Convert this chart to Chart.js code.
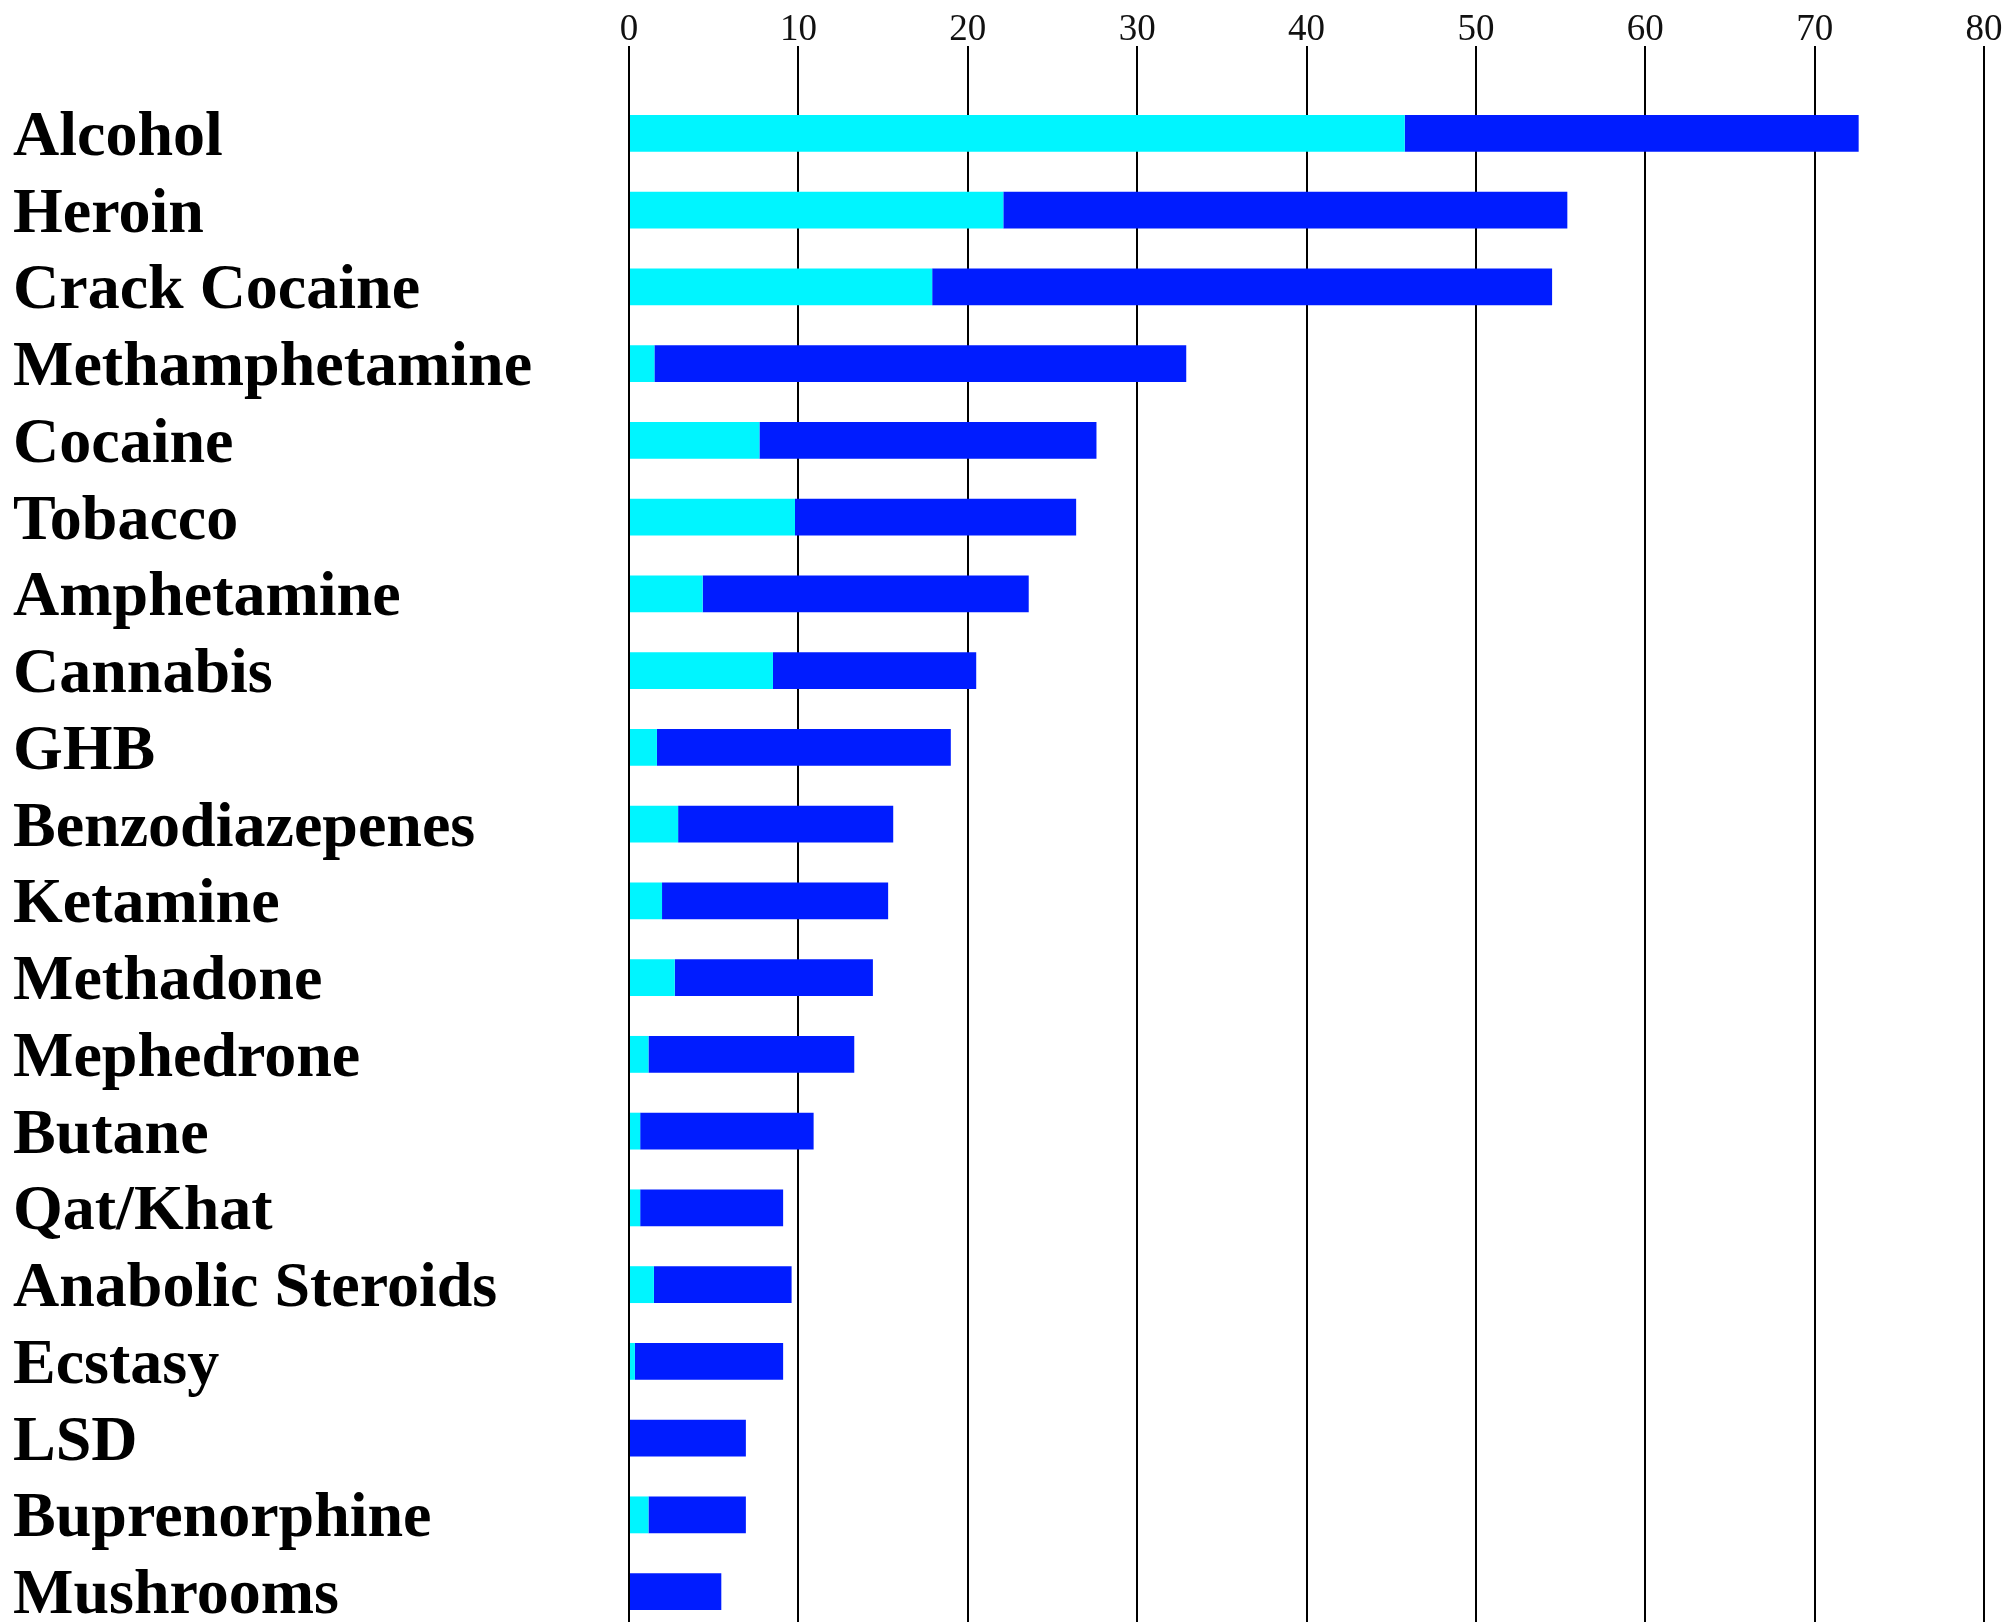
<!DOCTYPE html>
<html>
<head>
<meta charset="utf-8">
<script src="https://cdn.jsdelivr.net/npm/chart.js@4"></script>
<style>
  html, body { margin: 0; padding: 0; background: #fff; overflow: hidden; }
  canvas { display: block; }
</style>
</head>
<body>
<canvas id="harmChart" width="2013" height="1640"></canvas>
<script>
const drugs = [
  "Alcohol", "Heroin", "Crack Cocaine", "Methamphetamine", "Cocaine",
  "Tobacco", "Amphetamine", "Cannabis", "GHB", "Benzodiazepenes",
  "Ketamine", "Methadone", "Mephedrone", "Butane", "Qat/Khat",
  "Anabolic Steroids", "Ecstasy", "LSD", "Buprenorphine", "Mushrooms"
];

// cyan segment (drawn first, from zero)
const harmToOthers = [
  45.8, 22.1, 17.9, 1.5, 7.7,
  9.8, 4.35, 8.5, 1.65, 2.9,
  1.95, 2.7, 1.15, 0.66, 0.66,
  1.47, 0.35, 0, 1.15, 0
];

// blue segment, stacked on the cyan one
const harmToUsers = [
  26.8, 33.3, 36.6, 31.4, 19.9,
  16.6, 19.25, 12.0, 17.35, 12.7,
  13.35, 11.7, 12.15, 10.24, 8.44,
  8.13, 8.75, 6.9, 5.75, 5.45
];

const xTicks = [0, 10, 20, 30, 40, 50, 60, 70, 80];

const ctx = document.getElementById("harmChart").getContext("2d");

new Chart(ctx, {
  type: "bar",
  data: {
    labels: drugs,
    datasets: [
      {
        label: "Harm to others",
        data: harmToOthers,
        backgroundColor: "#00f5ff",
        barPercentage: 0.48,
        categoryPercentage: 1
      },
      {
        label: "Harm to users",
        data: harmToUsers,
        backgroundColor: "#001cff",
        barPercentage: 0.48,
        categoryPercentage: 1
      }
    ]
  },
  options: {
    indexAxis: "y",
    responsive: false,
    devicePixelRatio: 1,
    animation: false,
    layout: { padding: { left: 13, right: 29, top: 0, bottom: 10 } },
    plugins: {
      legend: { display: false },
      tooltip: { enabled: false }
    },
    scales: {
      x: {
        position: "top",
        stacked: true,
        min: xTicks[0],
        max: xTicks[xTicks.length - 1],
        afterFit: (scale) => { scale.height = 95; },
        afterBuildTicks: (scale) => { scale.ticks = xTicks.map((v) => ({ value: v })); },
        ticks: {
          color: "#111",
          padding: -6,
          font: { family: "'Liberation Serif', 'Times New Roman', serif", size: 37 }
        },
        grid: {
          color: "#000",
          lineWidth: 2,
          tickLength: 49,
          tickColor: "#000"
        },
        border: { display: false }
      },
      y: {
        stacked: true,
        afterFit: (scale) => {
          scale.width = 616;
          // big labels would otherwise shrink the plot at top/bottom
          scale.paddingTop = 0;
          scale.paddingBottom = 0;
        },
        ticks: {
          color: "#000",
          autoSkip: false,
          crossAlign: "far",
          padding: 0,
          labelOffset: 5,
          font: { family: "'Liberation Serif', 'Times New Roman', serif", size: 64, weight: "bold" }
        },
        grid: { display: false },
        border: { display: false }
      }
    }
  }
});
</script>
</body>
</html>
